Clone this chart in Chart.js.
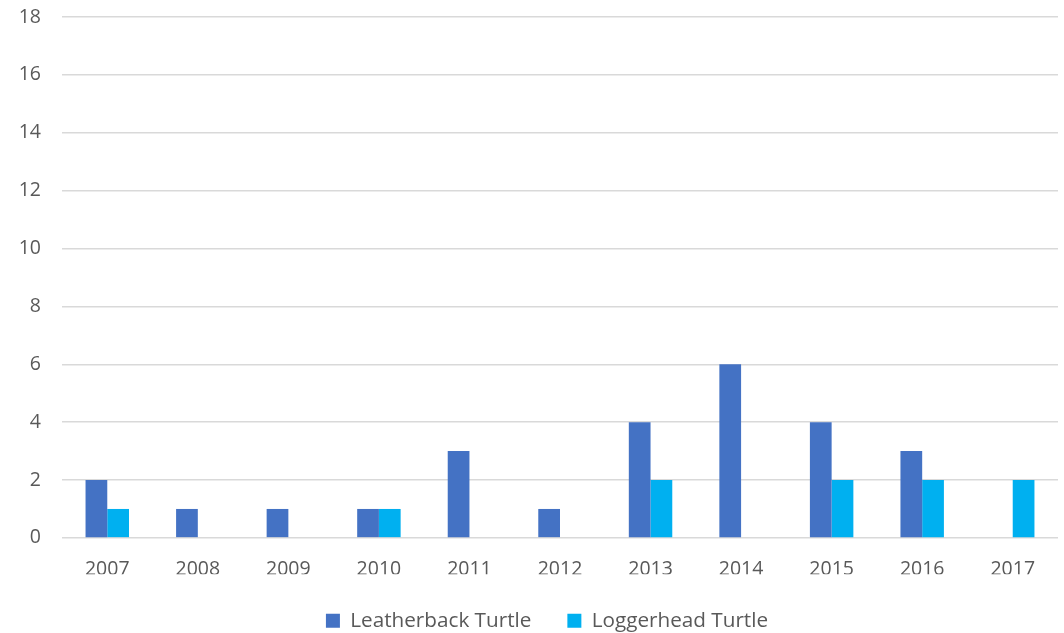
<!DOCTYPE html>
<html lang="en">
<head>
  <meta charset="UTF-8">
  <title>Turtle Strandings</title>
  <style>
    body {
      margin: 0;
      background: #ffffff;
    }
    canvas {
      display: block;
    }
  </style>
</head>
<body>
  <canvas id="turtleChart" width="1064" height="633"></canvas>

  <script src="https://cdn.jsdelivr.net/npm/chart.js"></script>
  <script>
    const years = ['2007', '2008', '2009', '2010', '2011', '2012', '2013', '2014', '2015', '2016', '2017'];
    const leatherback = [2, 1, 1, 1, 3, 1, 4, 6, 4, 3, 0];
    const loggerhead = [1, 0, 0, 1, 0, 0, 2, 0, 2, 2, 2];
    const yTicks = [0, 2, 4, 6, 8, 10, 12, 14, 16, 18];

    const textColor = '#595959';
    const gridColor = '#d9d9d9';

    // legend sits a bit right of the canvas centre in the original
    const legendShift = {
      id: 'legendShift',
      afterLayout(chart) {
        chart.legend.left += 18;
        chart.legend.right += 18;
      }
    };

    const ctx = document.getElementById('turtleChart').getContext('2d');

    new Chart(ctx, {
      type: 'bar',
      data: {
        labels: years,
        datasets: [
          {
            label: 'Leatherback Turtle',
            data: leatherback,
            backgroundColor: '#4472c4'
          },
          {
            label: 'Loggerhead Turtle',
            data: loggerhead,
            backgroundColor: '#00b0f0'
          }
        ]
      },
      options: {
        responsive: false,
        animation: false,
        datasets: {
          bar: {
            categoryPercentage: 0.48,
            barPercentage: 1
          }
        },
        layout: {
          // negative bottom pulls the legend closer to the edge
          padding: { top: 17, right: 6, bottom: -8, left: 0 }
        },
        plugins: {
          legend: {
            position: 'bottom',
            labels: {
              color: textColor,
              boxWidth: 14,
              boxHeight: 14,
              padding: 36,
              font: { family: 'Open Sans', size: 20.7 }
            }
          },
          tooltip: { enabled: false }
        },
        scales: {
          x: {
            afterFit: scale => { scale.height = scale.height - 27; },
            grid: { display: false, drawTicks: false },
            border: { display: false },
            ticks: {
              color: textColor,
              padding: 20,
              font: { family: 'Open Sans', size: 19.5 }
            }
          },
          y: {
            min: 0,
            max: 18,
            afterFit: scale => { scale.width = 62; },
            afterBuildTicks: scale => {
              scale.ticks = yTicks.map(v => ({ value: v }));
            },
            grid: {
              color: gridColor,
              lineWidth: 1.5,
              drawTicks: true,
              tickLength: 21,
              tickColor: 'rgba(0,0,0,0)'
            },
            border: { display: false },
            ticks: {
              color: textColor,
              padding: 0,
              font: { family: 'Open Sans', size: 19.5 }
            }
          }
        }
      },
      plugins: [legendShift]
    });
  </script>
</body>
</html>
